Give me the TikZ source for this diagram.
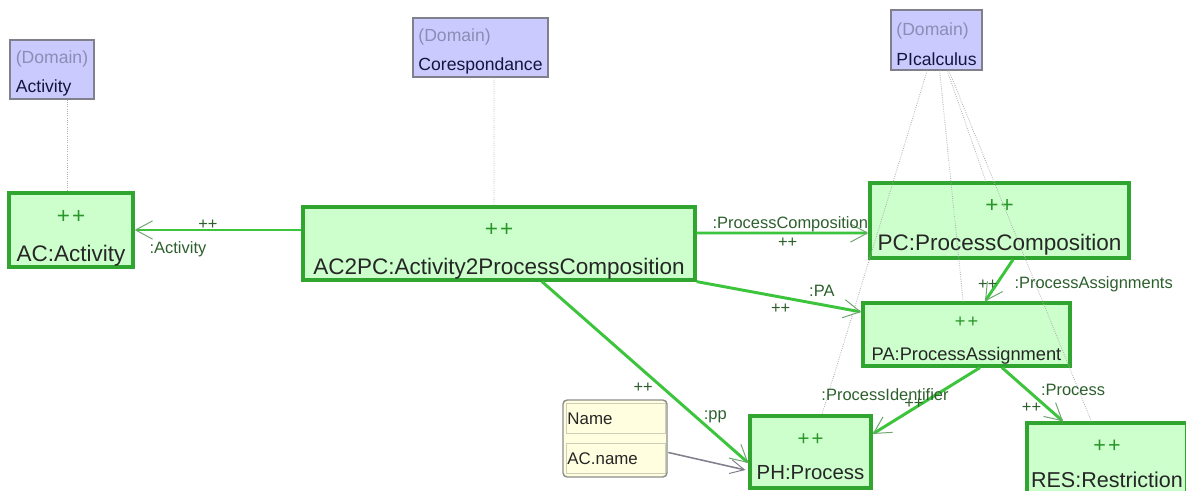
\documentclass[tikz,border=0pt]{standalone}
\usepackage{fontspec}
\setmainfont{Liberation Sans}
\usetikzlibrary{arrows.meta,calc}

\definecolor{boxfill}{RGB}{204,255,204}
\definecolor{boxline}{RGB}{48,165,48}
\definecolor{linkgreen}{RGB}{60,196,60}
\definecolor{tipgreen}{RGB}{110,165,110}
\definecolor{plusgreen}{RGB}{40,150,40}
\definecolor{lblgreen}{RGB}{45,95,45}
\definecolor{domfill}{RGB}{202,202,255}
\definecolor{domline}{RGB}{128,128,140}
\definecolor{domgray}{RGB}{140,140,180}
\definecolor{domtext}{RGB}{20,20,60}
\definecolor{memofill}{RGB}{255,255,224}
\definecolor{memoline}{RGB}{140,140,140}
\definecolor{memoitemline}{RGB}{205,205,185}
\definecolor{reflink}{RGB}{128,128,140}
\definecolor{traceline}{RGB}{175,175,175}

\newcommand{\plusrow}[1]{\rule{0pt}{#1}{\color{plusgreen}+\kern1.5pt+}}
\newcommand{\domrow}{\rule{0pt}{15pt}{\color{domgray}(Domain)}}

\begin{document}
\begin{tikzpicture}[x=0.025cm, y=-0.025cm,
  obj node/.style={rectangle, draw=boxline, fill=boxfill, line width=2.3pt, align=center, inner sep=0pt, text=black!85, font=\fontsize{16}{19}\selectfont},
  dom node/.style={rectangle, draw=domline, fill=domfill, line width=0.8pt, align=left, inner sep=0pt, text=domtext, font=\fontsize{12.5}{15}\selectfont, minimum height=1.475cm},
  memo box/.style={rectangle, rounded corners=3pt, draw=memoline, fill=memofill, line width=1pt},
  memo item/.style={rectangle, draw=memoitemline, fill=memofill, line width=0.6pt, minimum height=0.75cm, text width=2.4cm, inner xsep=1pt, align=left, text=black!85, font=\fontsize{12}{14}\selectfont},
  link/.style={draw=linkgreen, line width=2.1pt, -{Straight Barb[length=12pt,width=13pt,line width=0.7pt,color=tipgreen]}},
  ref link/.style={draw=reflink, line width=1.1pt, -{Straight Barb[length=10pt,width=10pt,line width=0.7pt]}},
  trace/.style={draw=traceline, line width=0.6pt, densely dotted},
  lbl/.style={font=\fontsize{11.7}{13}\selectfont, text=lblgreen, inner sep=1pt}]

\useasboundingbox (0,0) rectangle (1186,491);
\clip (0,0) rectangle (1186,491);

\node[dom node, minimum width=2.1cm] (dact) at (52,69.5) {\domrow\\[6pt]Activity};
\node[dom node, minimum width=3.375cm] (dcor) at (480.5,47.5) {\domrow\\[6pt]Corespondance};
\node[dom node, minimum width=2.275cm, minimum height=1.5cm] (dpi) at (936.5,40) {\domrow\\[6pt]PIcalculus};

\node[obj node, minimum width=3.1cm, minimum height=1.85cm] (ac) at (71,230) {\plusrow{21pt}\\[7.5pt]AC:Activity};
\node[obj node, minimum width=9.8cm, minimum height=1.825cm] (ac2pc) at (499,243.5) {\plusrow{20pt}\\[8pt]AC2PC:Activity2ProcessComposition};
\node[obj node, minimum width=6.475cm, minimum height=1.875cm] (pc) at (999.5,220.5) {\plusrow{19pt}\\[7.5pt]PC:ProcessComposition};
\node[obj node, minimum width=5.175cm, minimum height=1.575cm, font=\fontsize{13}{15.5}\selectfont] (pa) at (966.5,334.5) {\plusrow{16pt}\\[8pt]PA:ProcessAssignment};
\node[obj node, minimum width=3.025cm, minimum height=1.8cm, font=\fontsize{14.5}{17}\selectfont] (ph) at (810.5,452) {\plusrow{15pt}\\[7pt]PH:Process};
\node[obj node, minimum width=4cm, minimum height=1.85cm, font=\fontsize{15.3}{18}\selectfont] (res) at (1107,460) {\plusrow{14pt}\\[7pt]RES:Restriction};

\node[memo box, minimum width=2.6cm, minimum height=1.925cm] (memo) at (615,438.5) {};
\node[memo item] (nm) at (615.5,418.5) {Name};
\node[memo item] (acname) at (615.5,458.5) {AC.name};

\draw[trace] ($(dact.south)+(15,0)$) -- ($(ac.north)+(-4,0)$);
\draw[trace] ($(dcor.south)+(13.5,0)$) -- ($(ac2pc.north)+(-5,0)$);
\draw[trace] (dpi) -- (ph);
\draw[trace] (dpi) -- (pa);
\draw[trace] (dpi) -- (pc);
\draw[trace] (dpi) -- (res);

\draw[link] (ac2pc.west |- ac.east) -- (ac.east)
  node[lbl, pos=.56, yshift=4pt] {++} node[lbl, pos=.74, yshift=-14pt] {:Activity};
\draw[link] ($(ac2pc.east)+(0,-10.5)$) -- ($(pc.west)+(0,12.5)$)
  node[lbl, pos=.545, yshift=6.4pt] {:ProcessComposition} node[lbl, pos=.53, yshift=-7pt] {++};
\draw[link] (ac2pc.south east) -- ($(pa.west)+(0,-22.5)$)
  node[lbl, pos=.76, yshift=10pt] {:PA} node[lbl, pos=.51, yshift=-8.5pt] {++};
\draw[link] ($(ac2pc.south)+(43,0)$) -- ($(ph.west)+(0,11)$)
  node[lbl, pos=.49, yshift=-12.5pt] {++} node[lbl, pos=.84, yshift=12pt] {:pp};
\draw[link] ($(pc.south)+(13.5,0)$) -- ($(pa.north)+(18.5,0)$)
  node[lbl, pos=.6, xshift=-6pt] {++} node[lbl, pos=.6, anchor=west, xshift=11pt] {:ProcessAssignments};
\draw[link] ($(pa.south)+(13.5,0)$) -- ($(ph.east)+(0,-18)$)
  node[lbl, pos=.4, xshift=-37pt] {:ProcessIdentifier} node[lbl, pos=.55, xshift=-5pt] {++};
\draw[link] ($(pa.south)+(35.5,0)$) -- ($(res.north)+(-44,0)$)
  node[lbl, pos=.42, anchor=west, xshift=7.5pt] {:Process} node[lbl, pos=.75, xshift=-11.5pt] {++};

\draw[ref link] ($(acname.east)+(3,-6)$) -- ($(ph.west)+(-3,18)$);

\end{tikzpicture}
\end{document}
